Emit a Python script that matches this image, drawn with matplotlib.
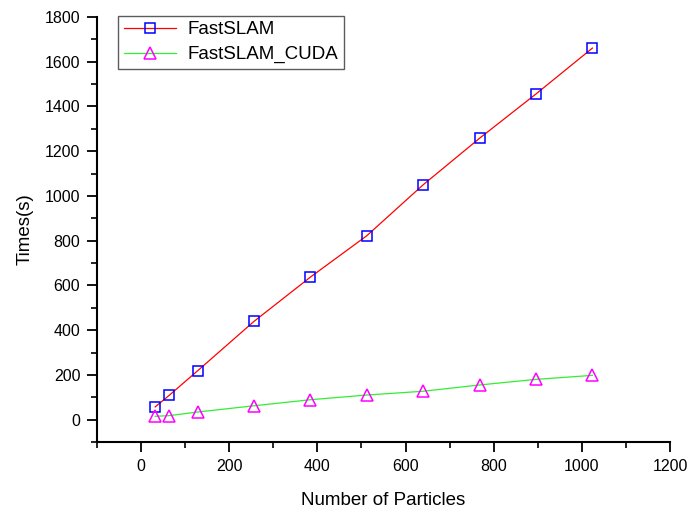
import matplotlib
matplotlib.use('Agg')
import matplotlib.pyplot as plt
from matplotlib.ticker import MultipleLocator

plt.rcParams['font.family'] = ['Liberation Sans', 'DejaVu Sans']

particles = [32, 64, 128, 256, 384, 512, 640, 768, 896, 1024]
fastslam = [57, 109, 218, 439, 637, 822, 1050, 1258, 1456, 1661]
fastslam_cuda = [15, 18, 34, 62, 89, 110, 127, 155, 180, 198]

fig = plt.figure(figsize=(6.9, 5.09), dpi=100)
ax = fig.add_axes([0.1406, 0.1316, 0.8304, 0.835])

ax.plot(particles, fastslam, color='red', lw=0.9, marker='s', ms=6.5,
        mfc='none', mec='blue', mew=1.1, label='FastSLAM')
ax.plot(particles, fastslam_cuda, color='#33ee33', lw=0.9, marker='^', ms=8.5,
        mfc='none', mec='magenta', mew=1.1, label='FastSLAM_CUDA')

ax.set_xlim(-100, 1200)
ax.set_ylim(-100, 1800)
ax.xaxis.set_major_locator(MultipleLocator(200))
ax.xaxis.set_minor_locator(MultipleLocator(100))
ax.yaxis.set_major_locator(MultipleLocator(200))
ax.yaxis.set_minor_locator(MultipleLocator(100))

ax.spines['top'].set_visible(False)
ax.spines['right'].set_visible(False)
ax.spines['left'].set_linewidth(1.5)
ax.spines['bottom'].set_linewidth(1.5)
ax.tick_params(which='major', direction='out', length=7, width=1.3, labelsize=11.5)
ax.tick_params(which='minor', direction='out', length=4, width=1.2)
ax.tick_params(axis='x', pad=5)
ax.tick_params(axis='y', pad=5)

ax.set_xlabel('Number of Particles', fontsize=13.5, labelpad=13)
ax.set_ylabel('Times(s)', fontsize=13.5, labelpad=8)

leg = ax.legend(loc='upper left', bbox_to_anchor=(0.037, 1.003), borderaxespad=0,
                fontsize=13.5, frameon=True, fancybox=False, handlelength=2.8,
                borderpad=0.3, labelspacing=0.4, handletextpad=0.6)
leg.get_frame().set_edgecolor('#333333')
leg.get_frame().set_linewidth(1.0)

fig.savefig('out.png', dpi=100)
